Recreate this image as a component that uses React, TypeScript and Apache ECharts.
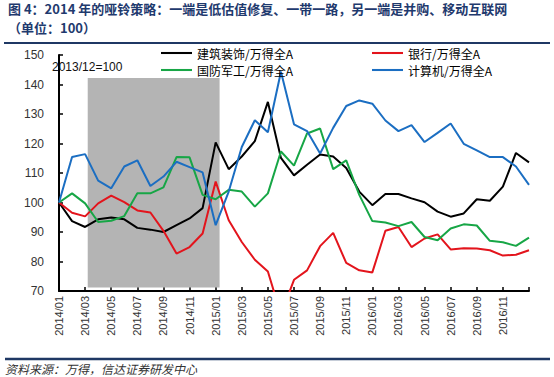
import React, { useEffect, useRef } from "react";
import * as echarts from "echarts";

const categories = [
  "2014/01", "2014/02", "2014/03", "2014/04", "2014/05", "2014/06", "2014/07", "2014/08", "2014/09", "2014/10", "2014/11", "2014/12",
  "2015/01", "2015/02", "2015/03", "2015/04", "2015/05", "2015/06", "2015/07", "2015/08", "2015/09", "2015/10", "2015/11", "2015/12",
  "2016/01", "2016/02", "2016/03", "2016/04", "2016/05", "2016/06", "2016/07", "2016/08", "2016/09", "2016/10", "2016/11", "2016/12",
  "2017/01",
];

const seriesNames = ["建筑装饰/万得全A", "银行/万得全A", "国防军工/万得全A", "计算机/万得全A"];

const construction = [100, 93.7, 91.7, 94.3, 94.9, 94.3, 91.4, 90.8, 90.0, 92.3, 94.6, 98.1, 120.4, 111.3, 115.6, 120.8, 134.1, 115.1, 109.2, 112.8, 116.3, 115.6, 111.7, 103.7, 99.1, 102.9, 102.9, 101.4, 100.1, 96.9, 95.2, 96.3, 101.1, 100.6, 105.4, 116.8, 113.6];
const bank = [100, 96.5, 95.3, 99.7, 102.3, 100.1, 97.3, 96.6, 90.4, 82.7, 84.9, 89.5, 107.1, 94.0, 86.6, 80.6, 76.6, 62.0, 73.8, 77.0, 85.2, 89.7, 79.5, 77.0, 76.3, 90.4, 91.7, 84.9, 87.8, 89.2, 84.1, 84.5, 84.4, 83.8, 82.0, 82.3, 83.8];
const defense = [100, 103.1, 99.7, 93.4, 93.8, 95.4, 103.1, 103.1, 105.1, 115.4, 115.3, 102.6, 101.1, 104.3, 103.7, 98.6, 103.1, 117.3, 112.5, 123.4, 125.1, 111.3, 114.3, 102.6, 93.7, 93.2, 92.0, 93.4, 88.3, 87.2, 91.2, 92.6, 92.2, 87.0, 86.5, 85.3, 88.1];
const computer = [100, 115.4, 116.4, 107.4, 104.8, 112.2, 114.3, 105.6, 108.8, 113.8, 112.0, 110.2, 92.3, 103.7, 118.8, 127.9, 123.8, 144.3, 126.5, 124.2, 116.6, 125.3, 132.7, 134.6, 133.5, 127.8, 124.2, 126.2, 120.5, 123.6, 126.8, 119.9, 117.7, 115.4, 115.4, 112.2, 106.0];

// shaded period: [start index, end index, top value, bottom value]
const shadeArea = [[2.2, 12.3, 142.2, 71.2]];

const yMin = 70;
const yMax = 150;
const yInterval = 10;

const titleLine1 = "图 4：2014 年的哑铃策略：一端是低估值修复、一带一路，另一端是并购、移动互联网";
const titleLine2 = "（单位：100）";
const baseNote = "2013/12=100";
const sourceText = "资料来源：万得，信达证券研发中心";

const colors = ["#000000", "#e3141c", "#17a646", "#1b6ec2"];

export default function App() {
  const ref = useRef<HTMLDivElement>(null);

  useEffect(() => {
    document.body.style.margin = "0";
    const chart = echarts.init(ref.current!, null, { renderer: "svg" });
    const cjk = "Noto Sans CJK SC";
    const lineSeries = [construction, bank, defense, computer].map((d, i) => ({
      name: seriesNames[i],
      type: "line",
      data: d,
      symbol: "none",
      showSymbol: false,
      clip: true,
      z: 3,
      lineStyle: { color: colors[i], width: 2 },
      itemStyle: { color: colors[i] },
    }));
    const legendCommon = {
      orient: "vertical",
      top: 46,
      padding: 0,
      itemWidth: 31,
      itemHeight: 14,
      itemGap: 3,
      icon: "path://M0,6 L30,6 L30,8 L0,8 Z",
      textStyle: { fontFamily: cjk, fontSize: 12, lineHeight: 14, color: "#000" },
    };
    const titleStyle = {
      fontFamily: cjk,
      fontSize: 13,
      fontWeight: "bold",
      fill: "#1f3a6e",
    };
    chart.setOption({
      animation: false,
      backgroundColor: "#ffffff",
      legend: [
        { ...legendCommon, data: [seriesNames[0], seriesNames[2]], left: 161 },
        { ...legendCommon, data: [seriesNames[1], seriesNames[3]], left: 372 },
      ],
      grid: { left: 59, right: 25, top: 55, bottom: 86, containLabel: false },
      xAxis: [
        {
          type: "category",
          data: categories,
          boundaryGap: false,
          axisLine: { show: true, lineStyle: { color: "#000", width: 2 } },
          axisTick: { show: true, inside: true, length: 4, interval: 1, lineStyle: { color: "#000", width: 1.5 } },
          axisLabel: {
            interval: 1,
            rotate: 90,
            margin: 5,
            fontFamily: "Liberation Sans",
            fontSize: 11,
            color: "#333",
            formatter: (v: string, idx: number) => (idx === categories.length - 1 ? "" : v),
          },
          splitLine: { show: false },
        },
        {
          type: "value",
          min: 0,
          max: categories.length - 1,
          show: false,
        },
      ],
      yAxis: {
        type: "value",
        min: yMin,
        max: yMax,
        interval: yInterval,
        axisLine: { show: true, lineStyle: { color: "#000", width: 2 } },
        axisTick: { show: true, inside: true, length: 4, lineStyle: { color: "#000", width: 1.5 } },
        axisLabel: { fontFamily: "Liberation Sans", fontSize: 12, color: "#333", margin: 15 },
        splitLine: { show: false },
      },
      graphic: [
        {
          type: "text",
          left: 8,
          top: 2,
          style: { ...titleStyle, text: titleLine1 },
        },
        {
          type: "text",
          left: 8,
          top: 21,
          style: { ...titleStyle, text: titleLine2 },
        },
        { type: "line", shape: { x1: 4, y1: 43, x2: 550, y2: 43 }, style: { stroke: "#1f3864", lineWidth: 2 } },
        { type: "line", shape: { x1: 5, y1: 359, x2: 550, y2: 359 }, style: { stroke: "#1f3864", lineWidth: 2.5 } },
        {
          type: "text",
          left: 52,
          top: 61,
          z: 10,
          style: { text: baseNote, fontFamily: "Liberation Sans", fontSize: 12, fill: "#111" },
        },
        {
          type: "text",
          left: 5,
          top: 362,
          style: { text: sourceText, fontFamily: cjk, fontSize: 12, fontStyle: "italic", fill: "#333" },
        },
      ],
      series: [
        {
          type: "custom",
          xAxisIndex: 1,
          yAxisIndex: 0,
          z: 1,
          silent: true,
          data: shadeArea,
          renderItem: (params: any, api: any) => {
            const p0 = api.coord([api.value(0), api.value(2)]);
            const p1 = api.coord([api.value(1), api.value(3)]);
            return {
              type: "rect",
              shape: { x: p0[0], y: p0[1], width: p1[0] - p0[0], height: p1[1] - p0[1] },
              style: { fill: "#b4b4b4" },
            };
          },
        },
        ...lineSeries,
      ],
    });
    return () => chart.dispose();
  }, []);

  return <div ref={ref} style={{ width: 554, height: 377 }} />;
}
